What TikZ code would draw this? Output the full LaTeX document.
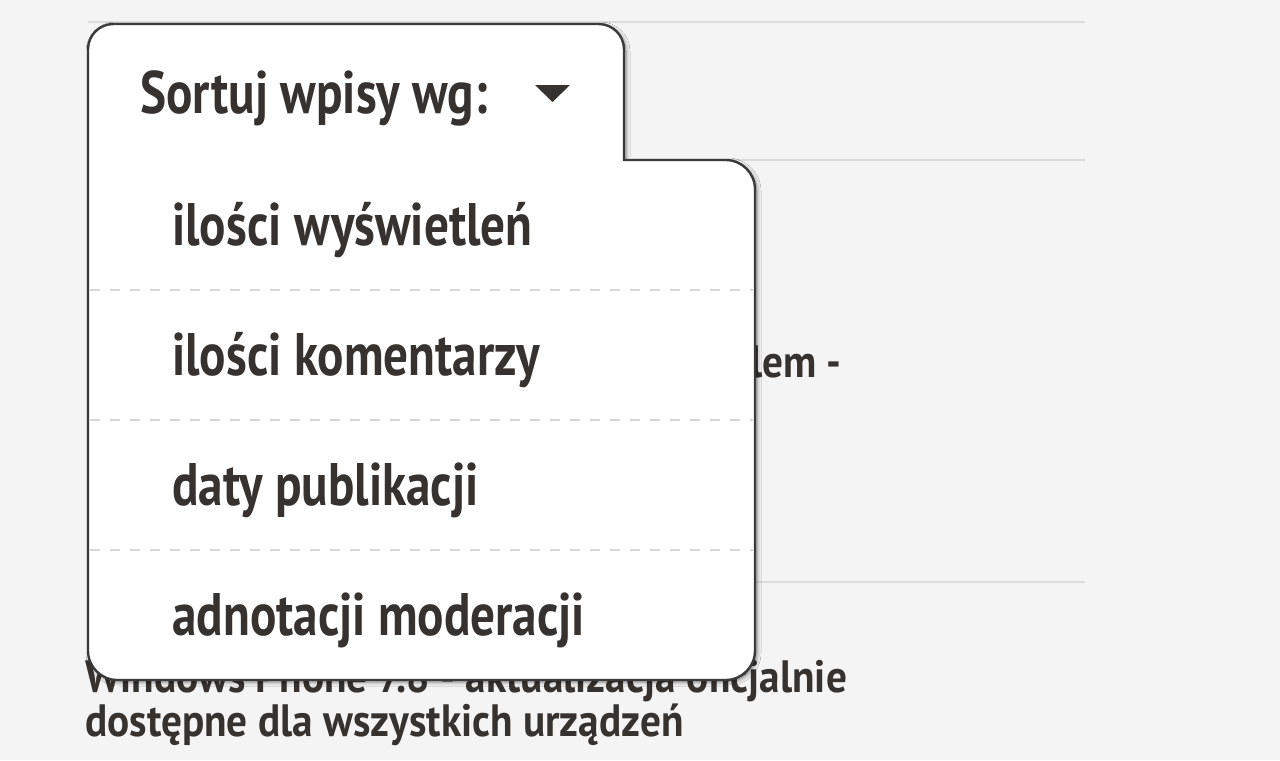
\documentclass[tikz,border=0pt]{standalone}
\usepackage{fontspec}
\usetikzlibrary{shadows.blur}
\newfontfamily\narrowfont{PT Sans}[FakeStretch=0.82]
\newfontfamily\pagefont{PT Sans}[FakeStretch=0.91]
\definecolor{bgc}{HTML}{F4F4F4}
\definecolor{rulec}{HTML}{DCDCDC}
\definecolor{txtc}{HTML}{36322F}
\definecolor{edgec}{HTML}{3A3A3A}
\definecolor{dashc}{HTML}{D6D6D6}
\tikzset{
  itemtext/.style={anchor=base west, inner sep=0pt, text=txtc, font=\narrowfont\bfseries\fontsize{45}{54}\selectfont},
  bgtext/.style={anchor=base west, inner sep=0pt, text=txtc, font=\pagefont\bfseries\fontsize{34}{40}\selectfont},
  rulebg/.style={draw=rulec, line width=1.5pt},
  sepline/.style={draw=dashc, line width=1.1pt, dash pattern=on 7.5pt off 7.5pt},
  menubox/.style={draw=edgec, fill=white, line width=1.8pt,
    blur shadow={shadow xshift=1.5pt, shadow yshift=-1.5pt, shadow blur radius=3pt, shadow opacity=50}}
}
\begin{document}
\begin{tikzpicture}[x=0.75pt,y=-0.75pt]
\fill[bgc] (0,0) rectangle (1280,760);
\useasboundingbox (0,0) rectangle (1280,760);
% background page content
\draw[rulebg] (88,22) -- (1085,22);
\draw[rulebg] (88,160) -- (1085,160);
\draw[rulebg] (88,582) -- (1085,582);
\node[bgtext, anchor=base east] (hid) at (842,377) {lem -};
\node[bgtext] (w1) at (85,692) {Windows Phone 7.8 - aktualizacja oficjalnie};
\node[bgtext] (w2) at (85,736) {dostępne dla wszystkich urządzeń};
% menu
\path[menubox] (88,300) [rounded corners=19pt] -- (88,24) -- (624,24)
   [sharp corners] -- (624,160) [rounded corners=22pt] -- (755,160) -- (755,680) -- (88,680) -- cycle;
\node[itemtext] (head) at (140,113) {Sortuj wpisy wg:};
\fill[txtc] (535,85) -- (570,85) -- (552.5,102) -- cycle;
\draw[sepline] (90,290) -- (753,290);
\draw[sepline] (90,420) -- (753,420);
\draw[sepline] (90,550) -- (753,550);
\node[itemtext] (i1) at (172,245) {ilości wyświetleń};
\node[itemtext] (i2) at (172,375) {ilości komentarzy};
\node[itemtext] (i3) at (172,505) {daty publikacji};
\node[itemtext] (i4) at (172,635) {adnotacji moderacji};
\end{tikzpicture}
\end{document}
